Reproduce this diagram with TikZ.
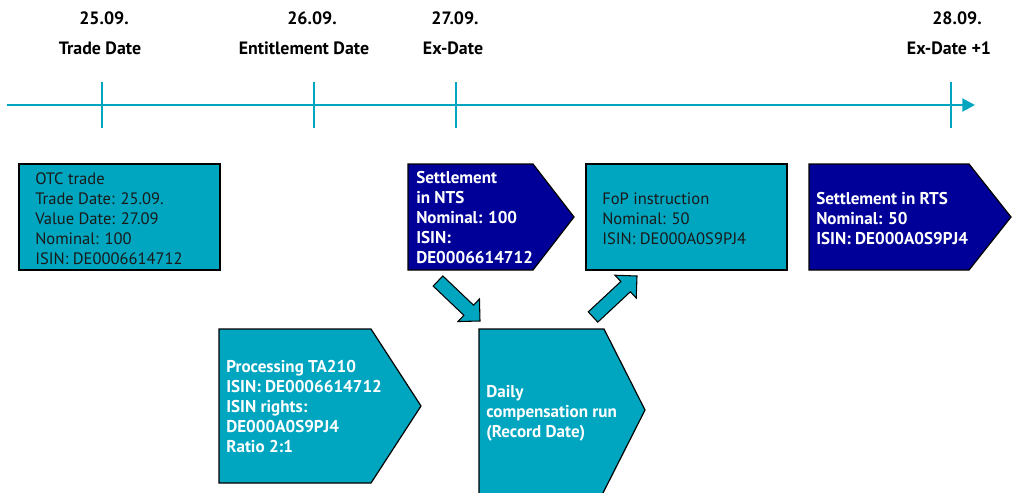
\documentclass[tikz,border=0pt]{standalone}
\usepackage{fontspec}
\setmainfont{PT Sans}
\usetikzlibrary{calc,arrows.meta}
\definecolor{dbteal}{RGB}{0,166,192}
\definecolor{dbblue}{RGB}{0,0,153}
\tikzset{
  box/.style={fill=dbteal, draw=black, line width=0.9pt},
  darkbox/.style={fill=dbblue, draw=black, line width=0.9pt},
  plain/.style={anchor=west, align=left, inner sep=0pt, text=black!90,
    font=\fontsize{12.4}{15}\selectfont},
  strong/.style={plain, text=white, font=\fontsize{12.8}{15}\selectfont\bfseries},
  head/.style={inner sep=0pt, font=\fontsize{13.4}{15}\selectfont\bfseries},
  timeline/.style={dbteal, line width=2.2pt},
  fatarrow/.style={fill=dbteal, draw=black, line width=0.8pt, line join=miter}
}
% block arrow from tail centre #1 to tip #2
\newcommand{\fatarrow}[2]{%
  \path ($(#2)!11.7pt!(#1)$) coordinate (fa-h);
  \filldraw[fatarrow] ($(#1)!5.25pt!90:(#2)$) -- ($(fa-h)!5.25pt!90:(#2)$)
    -- ($(fa-h)!11.7pt!90:(#2)$) -- (#2) -- ($(fa-h)!11.7pt!-90:(#2)$)
    -- ($(fa-h)!5.25pt!-90:(#2)$) -- ($(#1)!5.25pt!-90:(#2)$) -- cycle;}
\begin{document}
\begin{tikzpicture}[x=0.75pt, y=-0.75pt]
\clip (0,0) rectangle (1012,492);

% time line
\coordinate (start) at (7,105);
\coordinate (end) at (975,105);
\draw[timeline, -{Triangle[length=9.5pt, width=9.5pt]}] (start) -- (end);
\foreach \x in {102,314,456,951} {
\draw[timeline, line width=1.8pt] (\x,82) -- (\x,128);}

\foreach \i/\dx/\lx/\d/\l in {1/104/100/25.09./Trade Date, 2/312/304/26.09./Entitlement Date,
  3/455/453/27.09./Ex-Date, 4/957/949/28.09./Ex-Date +1} {
\node[head] (date\i) at (\dx,18) {\d};
\node[head] (label\i) at (\lx,48) {\l};}

% boxes
\filldraw[box] (19,164) rectangle (220,270);
\node[plain] (otc) at (35,219) {OTC trade\\Trade Date: 25.09.\\Value Date: 27.09\\Nominal: 100\\ISIN: DE0006614712};

\filldraw[darkbox] (408,164) -- (533,164) -- (574,217) -- (533,270) -- (408,270) -- cycle;
\node[strong] (nts) at (416,218) {Settlement\\in NTS\\Nominal: 100\\ISIN:\\DE0006614712};

\filldraw[box] (586,164) rectangle (787,270);
\node[plain] (fop) at (602,219) {FoP instruction\\Nominal: 50\\ISIN: DE000A0S9PJ4};

\filldraw[darkbox] (809,164) -- (969,164) -- (1011,217) -- (969,270) -- (809,270) -- cycle;
\node[strong] (rts) at (816,219) {Settlement in RTS\\Nominal: 50\\ISIN: DE000A0S9PJ4};

\filldraw[box] (219,329) -- (371,329) -- (421,406) -- (371,483) -- (219,483) -- cycle;
\node[strong] (ta210) at (226,407) {Processing TA210\\ISIN: DE0006614712\\ISIN rights:\\DE000A0S9PJ4\\Ratio 2:1};

\filldraw[box] (479,329) -- (604,329) -- (645,410) -- (604,491) -- (599,501) -- (479,501) -- cycle;
\node[strong] (daily) at (486,413) {Daily\\compensation run\\(Record Date)};

% arrows
\coordinate (ntsout) at (438,281);
\coordinate (dailyin) at (480,321);
\coordinate (dailyout) at (593,317);
\coordinate (fopin) at (637,276);
\fatarrow{ntsout}{dailyin}
\fatarrow{dailyout}{fopin}

\end{tikzpicture}
\end{document}
